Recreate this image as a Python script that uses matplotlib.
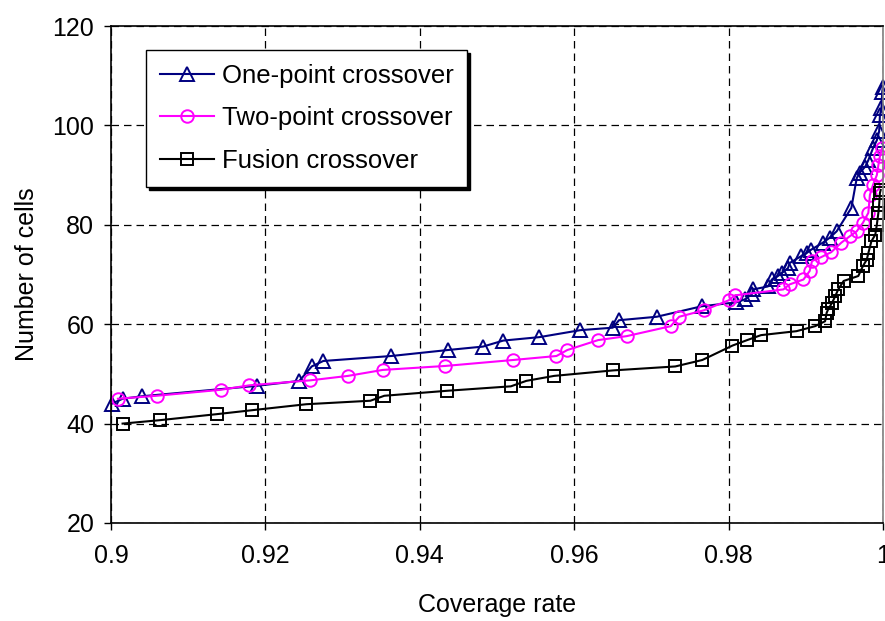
import matplotlib
matplotlib.use("Agg")
import matplotlib.pyplot as plt

plt.rcParams['font.family'] = ['Liberation Sans', 'DejaVu Sans']

# One-point crossover
one_x = [0.9001, 0.9015, 0.9040, 0.9189, 0.9244, 0.9260, 0.9275, 0.9363, 0.9436,
         0.9482, 0.9508, 0.9555, 0.9608, 0.9650, 0.9658, 0.9707, 0.9765, 0.9810,
         0.9821, 0.9830, 0.9832, 0.9851, 0.9856, 0.9864, 0.9869, 0.9877, 0.9879,
         0.9894, 0.9901, 0.9907, 0.9922, 0.9931, 0.9940, 0.9959, 0.9966, 0.9970,
         0.9977, 0.9981, 0.9987, 0.9992, 0.9995, 0.9996, 0.9998, 0.9999, 1.0000]
one_y = [44, 45, 45.5, 47.6, 48.6, 51.5, 52.6, 53.6, 54.8,
         55.5, 56.7, 57.4, 58.8, 59.3, 60.8, 61.5, 63.6, 64.4,
         65, 66, 67, 67.6, 69, 69.7, 70.3, 71.3, 72.3,
         73.7, 74.3, 75, 76.4, 77.4, 78.7, 83.4, 89.4, 90.5,
         91.7, 93, 95.4, 97, 98.8, 102, 103.5, 106.8, 107.8]

# Two-point crossover
two_x = [0.9009, 0.9059, 0.9142, 0.9179, 0.9258, 0.9307, 0.9352, 0.9433, 0.9521,
         0.9577, 0.9591, 0.9631, 0.9668, 0.9725, 0.9736, 0.9768, 0.9800, 0.9808,
         0.9871, 0.9879, 0.9897, 0.9905, 0.9908, 0.9920, 0.9933, 0.9946, 0.9957,
         0.9966, 0.9974, 0.9981, 0.9983, 0.9987, 0.9992, 0.9994, 0.9996, 0.9999]
two_y = [45, 45.6, 46.8, 47.7, 48.7, 49.6, 50.8, 51.6, 52.8,
         53.6, 54.8, 56.8, 57.6, 59.6, 61.5, 62.8, 64.8, 65.8,
         67, 68, 69, 70.7, 72.7, 73.5, 74.5, 76.4, 77.7,
         78.7, 80.4, 82.4, 86, 88, 90, 92, 93.8, 95.5]

# Fusion crossover
fus_x = [0.9015, 0.9064, 0.9137, 0.9183, 0.9253, 0.9336, 0.9354, 0.9435, 0.9518,
         0.9538, 0.9574, 0.9650, 0.9731, 0.9766, 0.9805, 0.9824, 0.9842, 0.9888,
         0.9912, 0.9925, 0.9927, 0.9929, 0.9934, 0.9938, 0.9942, 0.9949, 0.9968,
         0.9974, 0.9979, 0.9981, 0.9985, 0.9990, 0.9992, 0.9994, 0.9995, 0.9996,
         0.9997]
fus_y = [40, 40.7, 41.9, 42.7, 43.9, 44.6, 45.6, 46.6, 47.5,
         48.6, 49.6, 50.7, 51.5, 52.8, 55.7, 56.8, 57.8, 58.6,
         59.6, 60.6, 62.3, 63, 64.3, 65.6, 67, 68.7, 69.7,
         71.7, 73, 74.3, 76.7, 78, 80, 82.4, 84, 86.4,
         87]

series_labels = ["One-point crossover", "Two-point crossover", "Fusion crossover"]
x_ticks = [0.9, 0.92, 0.94, 0.96, 0.98, 1.0]
x_ticklabels = ["0.9", "0.92", "0.94", "0.96", "0.98", "1"]
y_ticks = [20, 40, 60, 80, 100, 120]

fig = plt.figure(figsize=(8.85, 6.21), dpi=100)
ax = fig.add_axes([111/885, 1-523/621, (883-111)/885, (523-26)/621])

common = dict(linewidth=1.5, markerfacecolor='none', markeredgewidth=1.4, clip_on=False)
ax.plot(one_x, one_y, color='#000080', marker='^', markersize=10, label=series_labels[0], **common)
ax.plot(two_x, two_y, color='#FF00FF', marker='o', markersize=9, label=series_labels[1], **common)
ax.plot(fus_x, fus_y, color='black', marker='s', markersize=8.5, label=series_labels[2], **common)

ax.set_xlim(0.9, 1.0)
ax.set_ylim(20, 120)
ax.set_xticks(x_ticks)
ax.set_xticklabels(x_ticklabels)
ax.set_yticks(y_ticks)
ax.tick_params(direction='out', length=5, width=1, labelsize=18, colors='black')
ax.tick_params(axis='x', pad=10)
ax.tick_params(axis='y', pad=7)
ax.grid(True, color='black', linestyle=(0, (6, 4)), linewidth=0.9)
ax.set_axisbelow(True)
for s in ax.spines.values():
    s.set_linewidth(1.2)
    s.set_color('black')
ax.spines['right'].set_color('#808080')

ax.set_xlabel("Coverage rate", fontsize=18, labelpad=18)
ax.set_ylabel("Number of cells", fontsize=18, labelpad=10)

leg = ax.legend(loc='upper left', bbox_to_anchor=(0.045, 0.952), borderaxespad=0,
                fontsize=18.5, frameon=True, fancybox=False, edgecolor='black',
                framealpha=1, shadow={'color': 'black', 'alpha': 1},
                labelspacing=0.72, handlelength=2.1, handletextpad=0.3,
                borderpad=0.55)
leg.get_frame().set_linewidth(1.0)

fig.savefig("out.png", dpi=100)
